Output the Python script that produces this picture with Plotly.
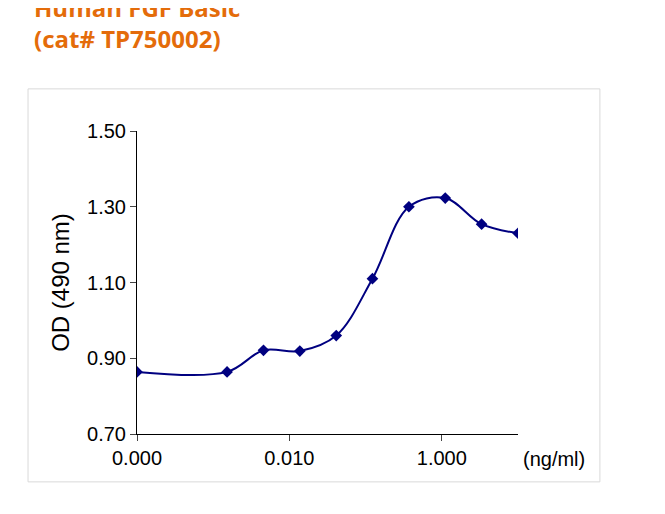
import plotly.graph_objects as go

conc = [0.0001, 0.00152, 0.00457, 0.0137, 0.0412, 0.123, 0.37, 1.11, 3.33, 10]
od = [0.864, 0.864, 0.921, 0.919, 0.960, 1.110, 1.300, 1.323, 1.254, 1.230]
tick_vals = [0.0001, 0.01, 1]
tick_text = ["0.000", "0.010", "1.000"]

fig = go.Figure(go.Scatter(
    x=conc, y=od, mode="lines+markers",
    line=dict(color="#000080", width=2, shape="spline", smoothing=1.0),
    marker=dict(symbol="diamond", size=9, color="#000080"),
))

fig.update_layout(
    width=665, height=514, showlegend=False,
    paper_bgcolor="white", plot_bgcolor="white",
    margin=dict(l=129, r=155, t=123, b=88),
    font=dict(family="Liberation Sans, Arial", size=20, color="black"),
    xaxis=dict(type="log", range=[-4, 1], tickvals=tick_vals, ticktext=tick_text,
               showline=True, linecolor="black", ticks="outside", ticklen=6,
               showgrid=False, zeroline=False),
    yaxis=dict(range=[0.7, 1.5], tickvals=[0.7, 0.9, 1.1, 1.3, 1.5], tickformat=".2f",
               showline=True, linecolor="black", ticks="outside", ticklen=6,
               showgrid=False, zeroline=False,
               title=dict(text="OD (490 nm)", standoff=10)),
    shapes=[dict(type="rect", xref="paper", yref="paper",
                 x0=-0.286, x1=1.215, y0=-0.158, y1=1.139,
                 line=dict(color="#d9d9d9", width=1))],
    annotations=[
        dict(text="<b>Human FGF Basic<br>(cat# TP750002)</b>", xref="paper", yref="paper",
             x=-0.275, y=1.47, xanchor="left", yanchor="top", align="left", showarrow=False,
             font=dict(family="Open Sans, Lato", size=24, color="#E46C0A")),
        dict(text="(ng/ml)", xref="paper", yref="paper", x=1.18, y=-0.04,
             xanchor="right", yanchor="top", showarrow=False, font=dict(size=20)),
    ],
)

fig.write_html("out.html")
